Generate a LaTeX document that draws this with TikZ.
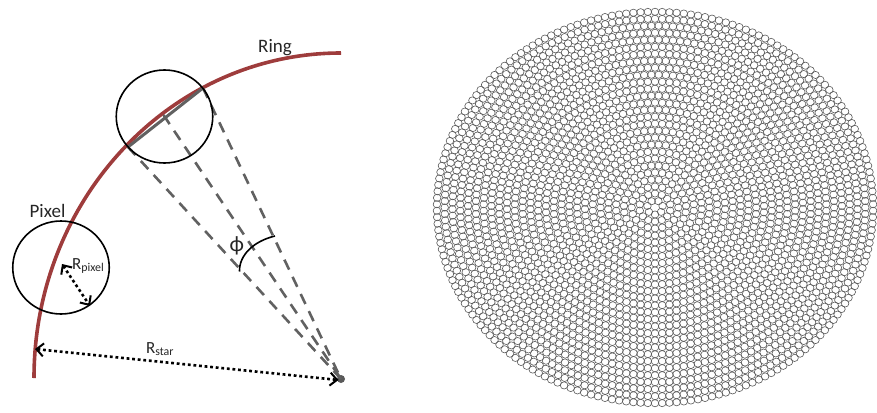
\documentclass[tikz,border=0pt]{standalone}
\usepackage{fontspec}
\setmainfont{Carlito}
\usetikzlibrary{shapes.geometric,arrows.meta}
\tikzset{
  pxl/.style={draw=black,line width=1.6pt,ellipse,inner sep=0pt,minimum width=96.5pt,minimum height=93pt},
  ringline/.style={line width=3.6pt,color={rgb,255:red,158;green,60;blue,60}},
  guide/.style={draw=black!62,line width=2.6pt,dash pattern=on 11pt off 8pt},
  chord/.style={draw=black!62,line width=3pt},
  meas/.style={draw=black,line width=2.6pt,dash pattern=on 2.8pt off 2.8pt,
    {Straight Barb[length=7pt,width=13pt,line width=2pt]}-{Straight Barb[length=7pt,width=13pt,line width=2pt]}},
  lbl/.style={text=black!85,inner sep=0pt,font=\fontsize{19}{22}\selectfont},
  smalllbl/.style={text=black!85,inner sep=0pt,font=\fontsize{17}{20}\selectfont},
  disc/.style={draw=black!65,line width=0.6pt}
}
\begin{document}
\begin{tikzpicture}[x=1pt,y=-1pt]
\useasboundingbox (0,0) rectangle (877,412);
% disc of small circles
\begin{scope}[shift={(655,207.5)}]
  \foreach \i in {1,...,28}{
    \pgfmathtruncatemacro{\n}{round(6.8*\i)}
    \pgfmathsetmacro{\rx}{7.79*\i}
    \pgfmathsetmacro{\ry}{6.99*\i}
    \pgfmathsetmacro{\st}{360/\n}
    \pgfmathtruncatemacro{\last}{\n-1}
    \foreach \k in {0,...,\last}{
      \pgfmathsetmacro{\a}{\k*\st+90}
      \draw[disc] ({\rx*cos(\a)},{\ry*sin(\a)}) ellipse [x radius=3.8,y radius=3.6];
    }
  }
\end{scope}
% named points
\node[circle,fill=black!65,minimum size=8pt,inner sep=0pt] (c) at (341,379) {};
\coordinate (A) at (128,147);
\coordinate (B) at (203,88);
\coordinate (M) at (163.5,115);
% ring
\draw[ringline] (34,378) .. controls (34,198.5) and (171.4,53) .. (341,53);
% chord and guides
\draw[chord] (A) -- (B);
\draw[guide] (A) -- (c.center);
\draw[guide] (M) -- (c.center);
\draw[guide] (B) -- (c.center);
% pixels
\node[pxl] (p1) at (164.5,116.5) {};
\node[pxl] (p2) at (61,267.5) {};
% angle
\coordinate (ph1) at (239.5,271.5);
\coordinate (ph2) at (275,236);
\draw[black,line width=1.6pt] (ph1) .. controls (239,255) and (254,241) .. (ph2);
% measures
\coordinate (r1) at (62,264);
\coordinate (r2) at (90,306);
\coordinate (s1) at (35,349);
\coordinate (s2) at (338.5,380);
\draw[meas] (r1) -- (r2);
\draw[meas] (s1) -- (s2);
% labels
\node[lbl] (lp) at (47.5,210.5) {Pixel};
\node[lbl] (lr) at (275,47.5) {Ring};
\node[lbl,font=\fontsize{22}{24}\selectfont] (lf) at (236.7,245.5) {ϕ};
\node[smalllbl,anchor=west] (lrp) at (72,266) {R\textsubscript{pixel}};
\node[smalllbl] (lrs) at (160,349) {R\textsubscript{star}};
\end{tikzpicture}
\end{document}
